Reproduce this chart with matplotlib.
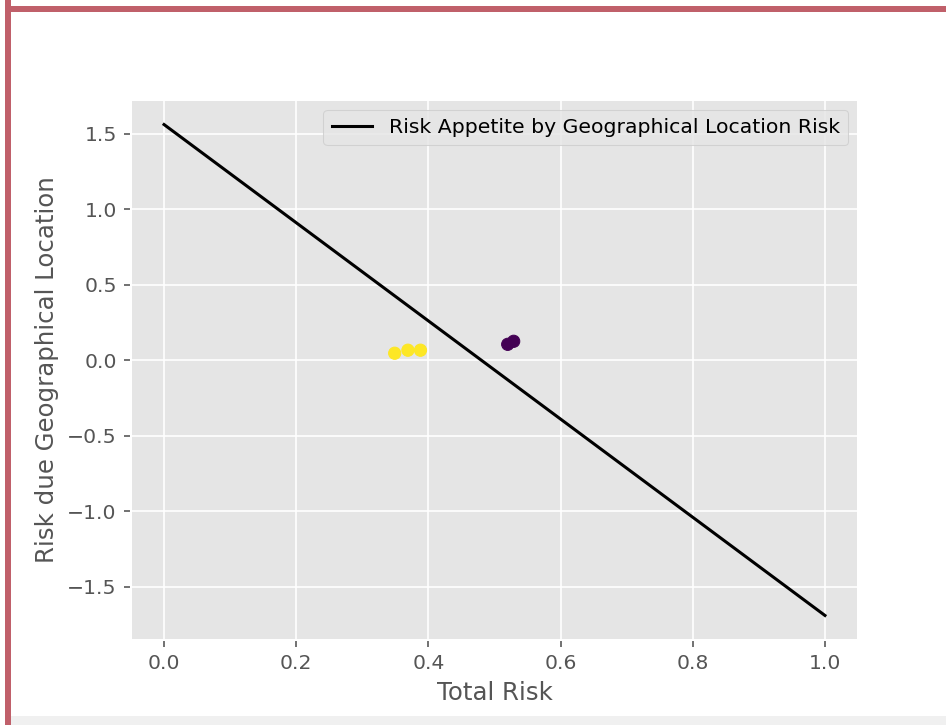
import matplotlib
matplotlib.use("Agg")
import matplotlib.pyplot as plt
from matplotlib.patches import Rectangle
import numpy as np

plt.style.use("ggplot")

# Data
line_x = [0.0, 1.0]
line_y = [1.56, -1.69]
pts_x = [0.349, 0.369, 0.388, 0.520, 0.529]
pts_y = [0.046, 0.066, 0.066, 0.105, 0.125]
pts_c = [1, 1, 1, 0, 0]
legend_label = "Risk Appetite by Geographical Location Risk"
xlabel = "Total Risk"
ylabel = "Risk due Geographical Location"

dpi = 146.5
fig = plt.figure(figsize=(946 / dpi, 725 / dpi), dpi=dpi)
fig.patch.set_facecolor("white")

W, H = 946, 725
ax = fig.add_axes([131 / W, (H - 640) / H, (858 - 131) / W, (640 - 100) / H])

ax.plot(line_x, line_y, color="black", label=legend_label)
ax.scatter(pts_x, pts_y, c=pts_c, cmap="viridis")
ax.set_xlabel(xlabel)
ax.set_ylabel(ylabel)
ax.set_xticks([0.0, 0.2, 0.4, 0.6, 0.8, 1.0])
ax.set_yticks([-1.5, -1.0, -0.5, 0.0, 0.5, 1.0, 1.5])
ax.legend(loc="upper right")

# screenshot frame decorations
border = "#c0606a"
fig.patches.append(Rectangle((5 / W, 0), 6 / W, 1, transform=fig.transFigure,
                             facecolor=border, edgecolor="none", zorder=-1))
fig.patches.append(Rectangle((5 / W, (H - 12) / H), 1, 6 / H, transform=fig.transFigure,
                             facecolor=border, edgecolor="none", zorder=-1))
fig.patches.append(Rectangle((11 / W, 0), 1, 9 / H, transform=fig.transFigure,
                             facecolor="#f0f0f0", edgecolor="none", zorder=-1))

fig.savefig("out.png", dpi=dpi)
